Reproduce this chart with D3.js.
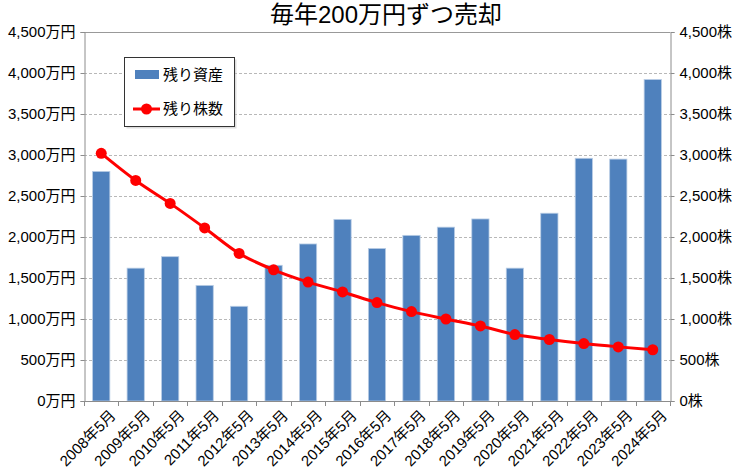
<!DOCTYPE html>
<html><head><meta charset="utf-8">
<script src="https://cdn.jsdelivr.net/npm/d3@7"></script>
<style>
body{margin:0;background:#fff;}
text{font-family:"Liberation Sans","Noto Sans CJK JP",sans-serif;fill:#000;}
</style></head>
<body><svg id="c" width="740" height="470"></svg>
<script>
const categories = ["2008年5月","2009年5月","2010年5月","2011年5月","2012年5月","2013年5月","2014年5月","2015年5月","2016年5月","2017年5月","2018年5月","2019年5月","2020年5月","2021年5月","2022年5月","2023年5月","2024年5月"];
const assets = [2800,1620,1760,1410,1155,1655,1915,2215,1860,2020,2120,2220,1620,2290,2960,2950,3920];
const shares = [3020,2690,2410,2110,1800,1600,1450,1330,1200,1090,1000,915,810,750,700,660,625];
const leftTicks = [0,500,1000,1500,2000,2500,3000,3500,4000,4500];
const title = "毎年200万円ずつ売却";
const seriesNames = ["残り資産","残り株数"];

const svg = d3.select("#c");
const m = {l:84, r:670, t:32, b:401};
const x = d3.scaleBand().domain(categories).range([m.l, m.r]).paddingInner(0.5).paddingOuter(0.25);
const y = d3.scaleLinear().domain([0,4500]).range([m.b, m.t]);
const fmt = d3.format(",");

// grid
svg.append("g").selectAll("line").data(leftTicks.slice(1,-1)).join("line")
  .attr("x1", m.l).attr("x2", m.r).attr("y1", d=>Math.round(y(d))+0.5).attr("y2", d=>Math.round(y(d))+0.5)
  .attr("stroke","#b8b8b8").attr("stroke-dasharray","3,2");
svg.append("line").attr("x1",m.l).attr("x2",m.r).attr("y1",y(4500)+0.5).attr("y2",y(4500)+0.5).attr("stroke","#999");

// bars
svg.append("g").selectAll("rect").data(assets).join("rect")
  .attr("x",(d,i)=>x(categories[i])).attr("width",x.bandwidth())
  .attr("y",d=>y(d)).attr("height",d=>y(0)-y(d))
  .attr("fill","#4f81bd").attr("stroke","#b9cde5").attr("stroke-width",0.8);

// axes
const axL = d3.axisLeft(y).tickValues(leftTicks).tickFormat(d=>fmt(d)+"万円").tickSize(4).tickPadding(5);
const gL = svg.append("g").attr("transform",`translate(${m.l+0.5},0)`).call(axL);
const axR = d3.axisRight(y).tickValues(leftTicks).tickFormat(d=>fmt(d)+"株").tickSize(4).tickPadding(5);
const gR = svg.append("g").attr("transform",`translate(${m.r+0.5},0)`).call(axR);
const axB = d3.axisBottom(x).tickSize(0).tickFormat("");
const gB = svg.append("g").attr("transform",`translate(0,${m.b+0.5})`).call(axB);
[gL,gR,gB].forEach(g=>{
  g.select(".domain").attr("stroke","#8c8c8c");
  g.selectAll(".tick line").attr("stroke","#8c8c8c");
  g.selectAll("text").style("font-size","15px").attr("fill","#000");
});
gB.select(".domain").attr("d",`M${m.l},0H${m.r}`);
// category boundary ticks
const bounds = d3.range(categories.length+1).map(i=>m.l + i*(m.r-m.l)/categories.length);
svg.append("g").selectAll("line").data(bounds).join("line")
  .attr("x1",d=>Math.round(d)+0.5).attr("x2",d=>Math.round(d)+0.5)
  .attr("y1",m.b).attr("y2",m.b+5).attr("stroke","#8c8c8c");
// x labels
svg.append("g").selectAll("text").data(categories).join("text")
  .attr("transform",d=>`translate(${x(d)+x.bandwidth()/2+8},${m.b+8}) rotate(-45)`)
  .attr("text-anchor","end").attr("dy","0.7em").style("font-size","15px").text(d=>d);

// line
const cx = (d,i)=>x(categories[i])+x.bandwidth()/2;
svg.append("path").datum(shares)
  .attr("d", d3.line().x(cx).y(d=>y(d)).curve(d3.curveMonotoneX))
  .attr("fill","none").attr("stroke","#ff0000").attr("stroke-width",3);
svg.append("g").selectAll("circle").data(shares).join("circle")
  .attr("cx",cx).attr("cy",d=>y(d)).attr("r",5.5).attr("fill","#ff0000");

// title
svg.append("text").attr("x",386).attr("y",23).attr("text-anchor","middle")
  .style("font-size","24px").text(title);

// legend
const lg = svg.append("g");
lg.append("rect").attr("x",126.5).attr("y",59.5).attr("width",110).attr("height",69).attr("fill","#bbb").attr("opacity",0.5);
lg.append("rect").attr("x",124.5).attr("y",57.5).attr("width",110).attr("height",69).attr("fill","#fff").attr("stroke","#333");
lg.append("rect").attr("x",135).attr("y",70).attr("width",24).attr("height",9).attr("fill","#4f81bd");
lg.append("text").attr("x",163).attr("y",75).attr("dy","0.35em").style("font-size","15px").text(seriesNames[0]);
lg.append("line").attr("x1",133).attr("x2",160).attr("y1",109).attr("y2",109).attr("stroke","#ff0000").attr("stroke-width",3);
lg.append("circle").attr("cx",146.5).attr("cy",109).attr("r",5.5).attr("fill","#ff0000");
lg.append("text").attr("x",163).attr("y",109).attr("dy","0.35em").style("font-size","15px").text(seriesNames[1]);
</script></body></html>
